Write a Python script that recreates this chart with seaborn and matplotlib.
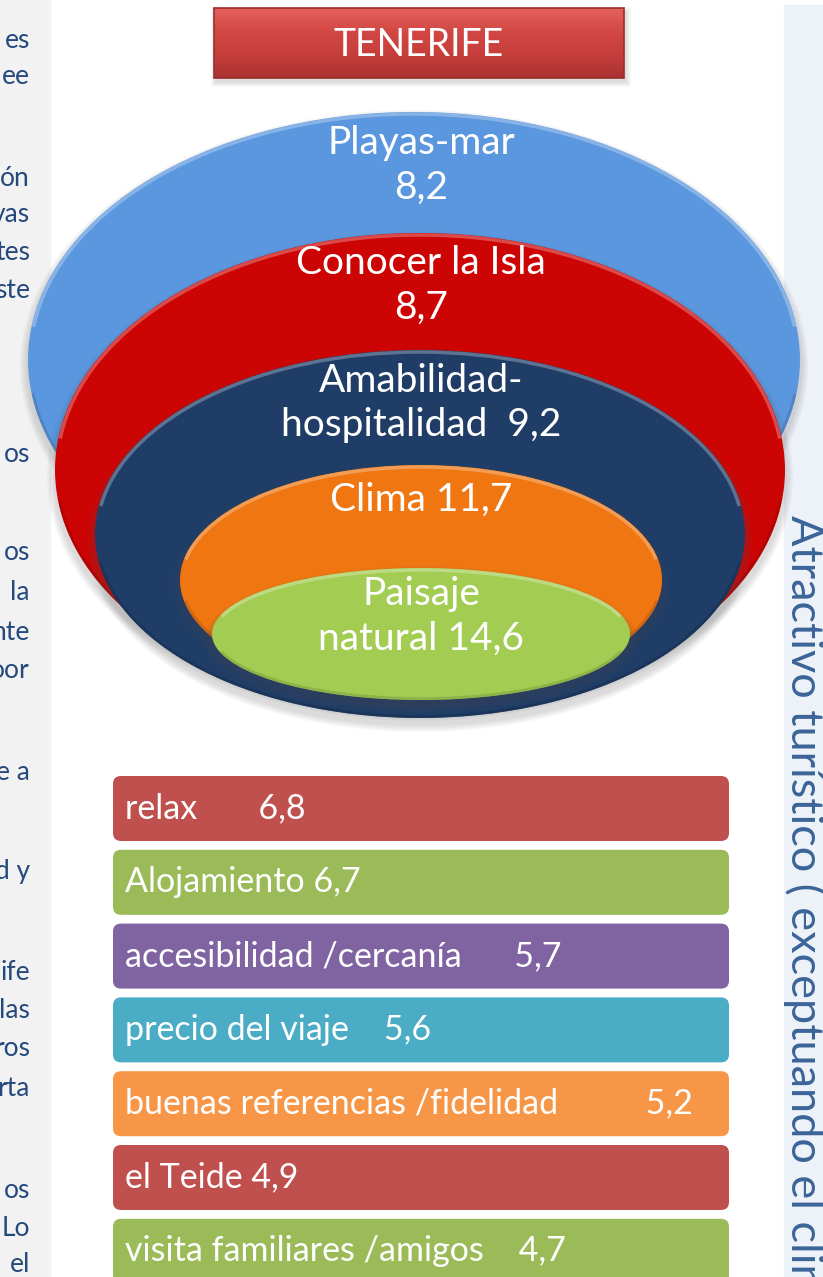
import numpy as np
import pandas as pd
import matplotlib
matplotlib.use("Agg")
import matplotlib.pyplot as plt
import seaborn as sns
from matplotlib.patches import Ellipse, Rectangle, FancyBboxPatch, Arc
import matplotlib.colors as mcolors

# ---- data -------------------------------------------------------------
title = "TENERIFE"

ring_names = ["Playas-mar", "Conocer la Isla", "Amabilidad-\nhospitalidad",
              "Clima", "Paisaje\nnatural"]
ring_values = [8.2, 8.7, 9.2, 11.7, 14.6]
ring_seps = ["\n", "\n", "  ", " ", " "]
ring_colors = ["#5b97df", "#cc0404", "#1f3d66", "#f07612", "#a2cc52"]

item_names = ["relax", "Alojamiento", "accesibilidad /cercanía",
              "precio del viaje", "buenas referencias /fidelidad",
              "el Teide", "visita familiares /amigos"]
item_values = [6.8, 6.7, 5.7, 5.6, 5.2, 4.9, 4.7]
item_gaps = [7, 1, 6, 4, 10, 1, 4]
item_colors = ["#c0504d", "#9bbb59", "#8064a2", "#4bacc6",
               "#f79646", "#c0504d", "#9bbb59"]

side_title = "Atractivo turístico ( exceptuando el clima )"


def es_num(v):
    return f"{v:.1f}".replace(".", ",")


# ---- figure -------------------------------------------------------------
sns.set_theme(style="white")
plt.rcParams["font.family"] = ["Lato", "DejaVu Sans"]

W, H = 823, 1277
fig = plt.figure(figsize=(W / 100, H / 100), dpi=100)
fig.patch.set_facecolor("white")
ax = fig.add_axes([0, 0, 1, 1])
ax.set_xlim(0, W)
ax.set_ylim(H, 0)
ax.axis("off")

# page margins of the surrounding document
ax.add_patch(Rectangle((0, 0), 50, H, color="#f2f2f2", zorder=0))
ax.add_patch(Rectangle((784, 5), W - 784, H, color="#edf1f8", zorder=0))

left_lines = [("es", 40), ("ee", 76), ("ón", 178), ("vas", 214), ("tes", 253),
              ("ste", 291), ("os", 455), ("os", 553), ("la", 592), ("nte", 632),
              ("oor", 670), ("e a", 772), ("d y", 872), ("ife", 972),
              ("las", 1010), ("ros", 1049), ("rta", 1088), ("os", 1190),
              ("Lo", 1228), ("el", 1265)]
for txt, yy in left_lines:
    ax.text(30, yy, txt, ha="right", va="center", fontsize=19,
            color="#24497c", zorder=1)

ax.text(804, 515, side_title, rotation=-90, ha="left", va="center",
        fontsize=32.5, color="#3a6499", zorder=1, rotation_mode="anchor")

# ---- title button -------------------------------------------------------
tx0, tx1, ty0, ty1 = 214, 624, 8, 78
for k in range(6):
    ax.add_patch(Rectangle((tx0 + 2 - k, ty0 + 4 - k), tx1 - tx0 + 2 * k, ty1 - ty0 + 2 * k,
                           color="#888888", alpha=0.05, zorder=2, lw=0))
grad = np.linspace(0, 1, 64)[:, None]
cmap_t = mcolors.LinearSegmentedColormap.from_list(
    "btn", ["#e4625d", "#d24743", "#c63e3b", "#a93331"])
ax.imshow(grad, extent=(tx0, tx1, ty1, ty0), cmap=cmap_t, aspect="auto",
          origin="upper", zorder=3)
ax.add_patch(Rectangle((tx0, ty0), tx1 - tx0, ty1 - ty0, fill=False,
                       ec="#9a2e2c", lw=1.2, zorder=4))
ax.text((tx0 + tx1) / 2, 45, title, ha="center", va="center", fontsize=27,
        color="white", zorder=5)

# ---- nested rings ---------------------------------------------------------
ring_geom = [(414, 360, 772, 496), (420, 470, 730, 474), (420, 534, 650, 368),
             (421, 580, 482, 230), (421, 634, 418, 132)]
text_y = [165, 285, 403, 500, 616]

for i, ((cx, cy, w, h), col) in enumerate(zip(ring_geom, ring_colors)):
    z = 10 + 3 * i
    # soft drop shadow
    for k in range(5):
        ax.add_patch(Ellipse((cx, cy + 6), w + 4 + 3 * k, h + 4 + 3 * k,
                             color="#555555", alpha=0.045, lw=0, zorder=z))
    ax.add_patch(Ellipse((cx, cy), w, h, color=col, lw=0, zorder=z + 1))
    light = mcolors.to_rgb(col)
    light = tuple(min(1, c + (1 - c) * 0.35) for c in light)
    dark = tuple(c * 0.8 for c in mcolors.to_rgb(col))
    ax.add_patch(Arc((cx, cy), w - 4, h - 4, theta1=185, theta2=355,
                     color=light, lw=2.5, alpha=0.8, zorder=z + 2))
    ax.add_patch(Arc((cx, cy), w - 3, h - 3, theta1=5, theta2=175,
                     color=dark, lw=2.0, alpha=0.6, zorder=z + 2))

for i, (nm, v, sep) in enumerate(zip(ring_names, ring_values, ring_seps)):
    ax.text(421, text_y[i], f"{nm}{sep}{es_num(v)}", ha="center", va="center",
            fontsize=28, color="white", linespacing=1.3, zorder=40)

# ---- list of further reasons --------------------------------------------
pitch = 73.8
top_center = 808.5
y_bottom = (H - top_center) / pitch
ax_top = top_center - 0.5 * pitch
ax2 = fig.add_axes([113 / W, 0, 616 / W, (H - ax_top) / H], zorder=5)
ax2.patch.set_alpha(0)

df = pd.DataFrame({"item": item_names, "value": item_values,
                   "box": np.ones(len(item_names))})
sns.barplot(data=df, x="box", y="item", hue="item", palette=item_colors,
            orient="h", width=65 / pitch, legend=False, ax=ax2, saturation=1)
ax2.set_xlim(0, 1)
ax2.set_ylim(y_bottom, -0.5)
ax2.axis("off")

rx = 8 / 616
for p in list(ax2.patches):
    x, y = p.get_x(), p.get_y()
    w, h = p.get_width(), p.get_height()
    fc = p.get_facecolor()
    p.remove()
    ax2.add_patch(FancyBboxPatch((x, y), w, h,
                                 boxstyle=f"round,pad=0,rounding_size={rx}",
                                 mutation_aspect=616 / pitch, fc=fc, lw=0))

for i, (nm, v, g) in enumerate(zip(item_names, item_values, item_gaps)):
    ax2.text(12 / 616, i, f"{nm}{' ' * g}{es_num(v)}", ha="left", va="center",
             fontsize=24.5, color="white")

fig.savefig("out.png", dpi=100)
